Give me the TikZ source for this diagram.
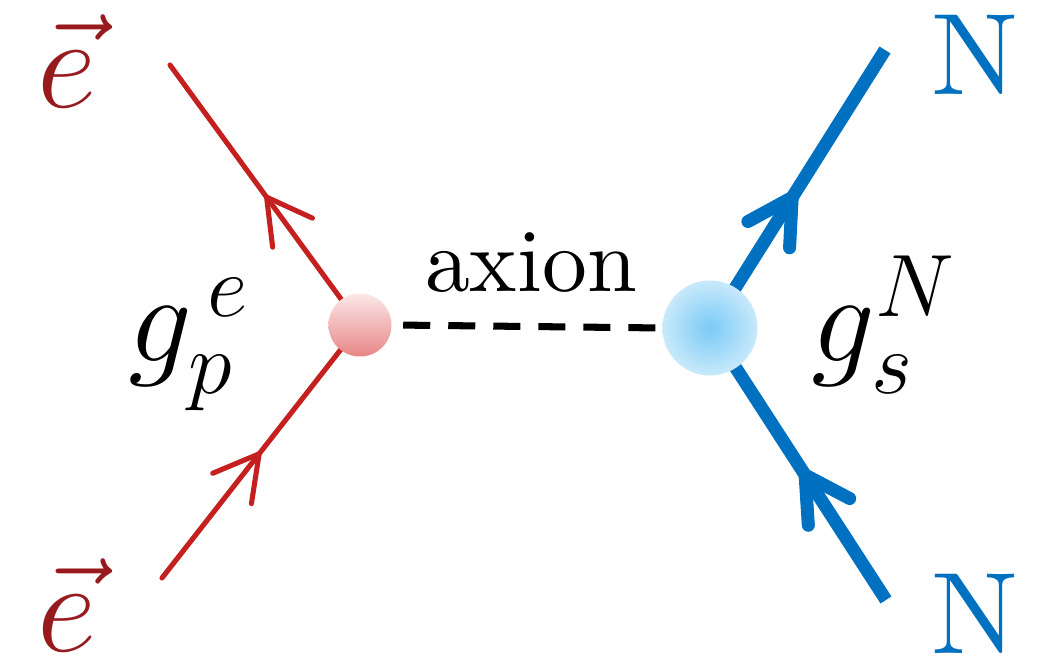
\RequirePackage{fix-cm}
\documentclass[tikz,border=0pt]{standalone}
\usepackage{amsmath,amssymb}
\usepackage{tikz}
\usetikzlibrary{arrows.meta, decorations.markings, positioning}

\definecolor{edark}{RGB}{150,26,30}
\definecolor{ered}{RGB}{196,32,31}
\definecolor{nblue}{RGB}{0,112,192}
\definecolor{ballrtop}{RGB}{251,232,232}
\definecolor{ballrbot}{RGB}{232,134,134}
\definecolor{ballbin}{RGB}{122,202,246}
\definecolor{ballbout}{RGB}{200,233,251}

\tikzset{
    midarrow/.style={postaction={decorate}, decoration={markings,
        mark=at position #1 with {\arrow{Straight Barb[length=12.5pt, width=14pt, round]}}}},
}

\begin{document}
\begin{tikzpicture}[x=0.01cm, y=-0.01cm,
    eline/.style={draw=ered, line width=1.45pt, line cap=round},
    nline/.style={draw=nblue, line width=3.7pt},
    eball/.style={circle, inner sep=0pt, minimum size=0.63cm, top color=ballrtop, bottom color=ballrbot},
    nball/.style={circle, inner sep=0pt, minimum size=0.95cm, inner color=ballbin, outer color=ballbout},
    elabel/.style={text=edark, inner sep=0pt, anchor=base, font=\fontsize{37}{40}\selectfont},
    nlabel/.style={text=nblue, inner sep=0pt, anchor=base west, font=\rmfamily},
    glabel/.style={inner sep=0pt, anchor=base west, font=\fontsize{36}{40}\selectfont}]
    \useasboundingbox (0,0) rectangle (1041,662);

    \coordinate (e1) at (170,65);
    \coordinate (e2) at (162,578);
    \coordinate (ve) at (360,325);
    \coordinate (n1) at (885,50);
    \coordinate (n2) at (886,600);
    \coordinate (vn) at (710,328);

    \draw[eline, midarrow=0.5] (ve) -- (e1);
    \draw[eline, midarrow=0.5] (e2) -- (ve);
    \draw[nline, midarrow=0.49] (vn) -- (n1);
    \draw[nline, midarrow=0.48] (n2) -- (vn);

    \node[eball] (veball) at (ve) {};
    \node[nball] (vnball) at (vn) {};
    \draw[line width=2pt, dash pattern=on 0.27cm off 0.18cm, shorten <=0.11cm, shorten >=0.03cm] (veball.east) -- (vnball.west);

    \node[anchor=base, inner sep=0pt, font=\rmfamily] (axion) at (531,292) {\scalebox{2.55}{axion}};
    \node[elabel] (etop) at (67,108) {$\vec{e}$};
    \node[elabel] (ebot) at (67,652) {$\vec{e}$};
    \node[nlabel] (ntop) at (931,95) {\scalebox{3.3}{N}};
    \node[nlabel] (nbot) at (931,654) {\scalebox{3.3}{N}};
    \node[glabel] (gp) at (128,362) {$g_p^{\,e}$};
    \node[glabel] (gs) at (811,362) {$g_s^N$};
\end{tikzpicture}
\end{document}
